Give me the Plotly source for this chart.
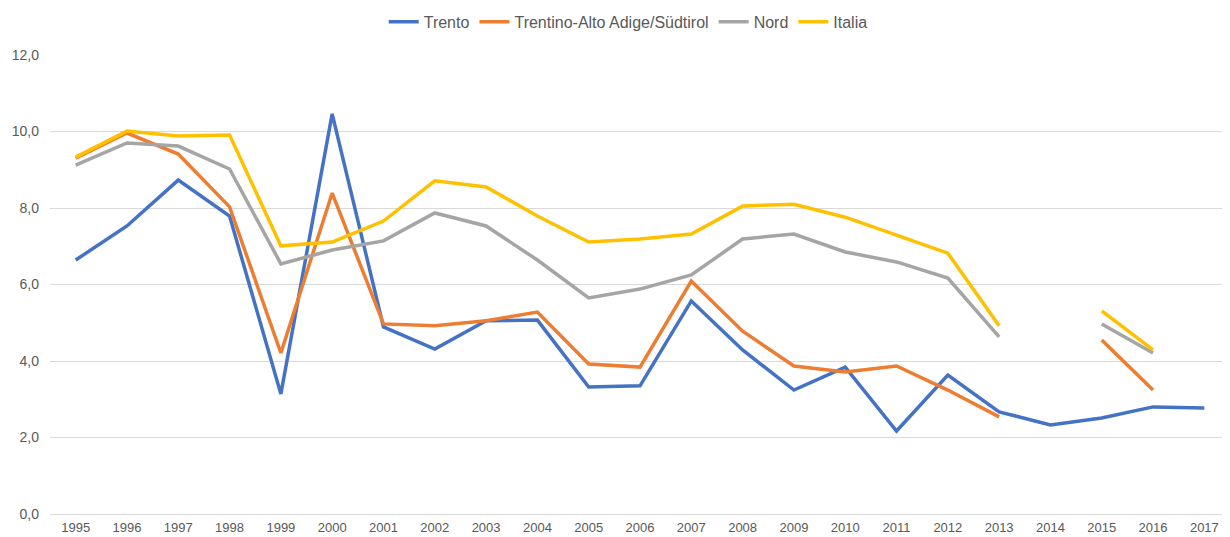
import plotly.graph_objects as go

years = [str(y) for y in range(1995, 2018)]

trento = [6.64, 7.53, 8.73, 7.79, 3.14, 10.46, 4.89, 4.31, 5.05, 5.07, 3.32, 3.35,
          5.57, 4.29, 3.24, 3.84, 2.17, 3.63, 2.67, 2.33, 2.51, 2.80, 2.77]
trentino_aa = [9.30, 9.96, 9.41, 8.03, 4.21, 8.39, 4.97, 4.92, 5.05, 5.28, 3.92, 3.84,
               6.09, 4.78, 3.87, 3.71, 3.87, 3.24, 2.54, None, 4.55, 3.24, None]
nord = [9.12, 9.70, 9.62, 9.02, 6.54, 6.90, 7.14, 7.87, 7.53, 6.64, 5.65, 5.88,
        6.25, 7.19, 7.32, 6.85, 6.59, 6.17, 4.63, None, 4.97, 4.21, None]
italia = [9.33, 10.01, 9.88, 9.91, 7.01, 7.11, 7.66, 8.71, 8.55, 7.79, 7.11, 7.19,
          7.32, 8.05, 8.10, 7.76, 7.29, 6.82, 4.92, None, 5.31, 4.29, None]

y_ticks = [0, 2, 4, 6, 8, 10, 12]

series = [
    ("Trento", trento, "#4472C4"),
    ("Trentino-Alto Adige/Südtirol", trentino_aa, "#ED7D31"),
    ("Nord", nord, "#A5A5A5"),
    ("Italia", italia, "#FFC000"),
]

fig = go.Figure()
for name, vals, color in series:
    fig.add_trace(go.Scatter(
        x=years, y=vals, name=name, mode="lines",
        line=dict(color=color, width=3.5),
        connectgaps=False,
    ))

fig.update_layout(
    width=1230, height=537,
    margin=dict(l=42, r=8, t=47, b=31, autoexpand=False),
    paper_bgcolor="white", plot_bgcolor="white",
    separators=",.",
    font=dict(family="Liberation Sans, Arial, sans-serif", size=12, color="#595959"),
    legend=dict(
        orientation="h", x=0.49, xanchor="center",
        yref="container", y=0.974, yanchor="middle",
        font=dict(size=16, color="#595959"),
        itemwidth=30, tracegroupgap=0,
    ),
    showlegend=True,
)
fig.update_xaxes(
    type="category", range=[-0.5, 22.5],
    showgrid=False, showline=False, ticks="", automargin=False,
    ticklabelstandoff=4,
    tickfont=dict(size=13, color="#595959"),
    fixedrange=True,
)
fig.update_yaxes(
    range=[0, 12], tickvals=y_ticks, tickformat=".1f", automargin=False,
    showgrid=True, gridcolor="#D9D9D9", gridwidth=1,
    zeroline=True, zerolinecolor="#D9D9D9", zerolinewidth=1,
    showline=False, ticks="", ticklabelstandoff=10,
    tickfont=dict(size=14, color="#595959"),
)

fig.write_html("out.html")
